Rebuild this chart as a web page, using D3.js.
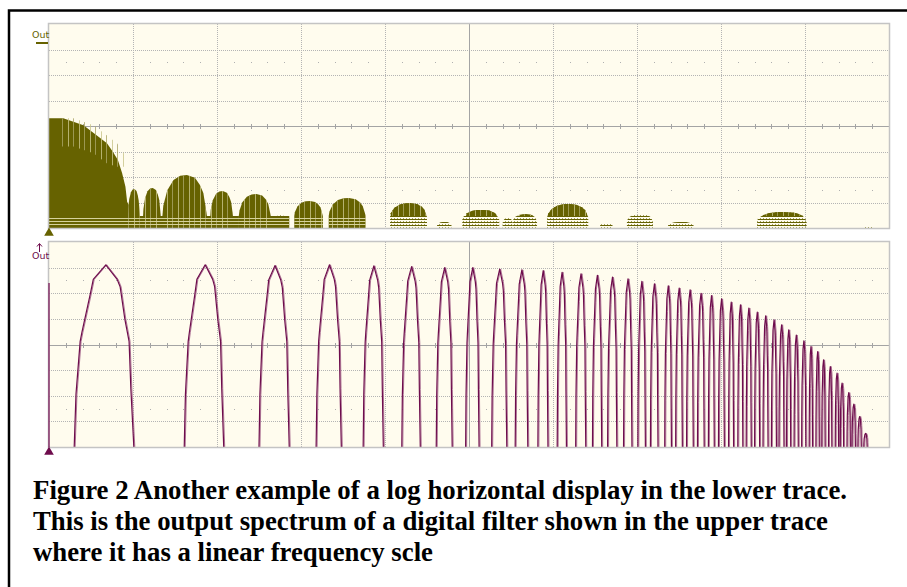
<!DOCTYPE html>
<html>
<head>
<meta charset="utf-8">
<script src="https://cdn.jsdelivr.net/npm/d3@7"></script>
<style>
  body { margin: 0; background: #fff; }
  svg { display: block; }
</style>
</head>
<body>
<div id="chart"></div>
<script>
// Screen divisions (10 across, 8 up) shared by both traces
const xDivisions = [0, 1, 2, 3, 4, 5, 6, 7, 8, 9, 10];
const yDivisions = [0, 1, 2, 3, 4, 5, 6, 7, 8];

// Upper trace (linear frequency): main lobe envelope [x div, height div]
const mainLobe = [
  [0, 4.30], [0.17, 4.30], [0.41, 4.03], [0.57, 3.63], [0.69, 3.32], [0.76, 2.99],
  [0.82, 2.67], [0.87, 2.16], [0.91, 1.62], [0.93, 1.03], [0.95, 0.90]
];
// Upper side lobes: [start, end, peak height, style] style 2 solid, 1 solid top / pale band, 0 pale
const upperLobes = [
  [0.94, 1.08, 1.53, 2], [1.12, 1.33, 1.57, 2], [1.35, 1.88, 2.08, 2], [1.92, 2.19, 1.45, 2],
  [2.26, 2.64, 1.33, 2], [2.68, 2.83, 0.51, 0], [2.92, 3.26, 1.06, 2], [3.33, 3.77, 1.18, 2],
  [4.06, 4.50, 0.98, 1], [4.62, 4.79, 0.24, 0], [4.92, 5.36, 0.71, 1], [5.40, 5.52, 0.40, 0],
  [5.52, 5.81, 0.55, 1], [5.93, 6.42, 0.94, 1], [6.56, 6.71, 0.20, 0], [6.88, 7.19, 0.55, 0],
  [7.37, 7.67, 0.24, 0], [8.43, 9.02, 0.63, 1], [9.71, 9.81, 0.08, 0]
];
const upperBand = 0.47;          // height of the striped floor under the lobes
const upperBandSpan = [0, 2.86]; // stretch where the floor is continuous
const upperStripes = [0.41, 0.27, 0.14];
const domeProfile = [
  [0, 0], [0.02, 0.25], [0.11, 0.63], [0.25, 0.88], [0.4, 0.98], [0.55, 1],
  [0.73, 0.93], [0.84, 0.76], [0.92, 0.56], [0.98, 0.15], [1, 0]
];

// Lower trace (log frequency): [start, end, peak height] in divisions
const lowerLobes = [
  [0.30, 1.01, 7.11], [1.61, 2.08, 7.11], [2.50, 2.86, 7.08], [3.18, 3.48, 7.11],
  [3.74, 3.98, 7.07], [4.20, 4.42, 7.04], [4.61, 4.80, 7.00], [4.96, 5.12, 7.00],
  [5.27, 5.45, 6.94], [5.55, 5.70, 6.91], [5.82, 5.94, 6.88], [6.05, 6.16, 6.82],
  [6.27, 6.39, 6.76], [6.47, 6.58, 6.70], [6.65, 6.76, 6.63], [6.84, 6.94, 6.56],
  [7.01, 7.10, 6.46], [7.16, 7.25, 6.37], [7.33, 7.41, 6.29], [7.46, 7.54, 6.20],
  [7.59, 7.67, 6.13], [7.72, 7.80, 6.00], [7.85, 7.92, 5.91], [7.97, 8.04, 5.78],
  [8.09, 8.15, 5.65], [8.20, 8.26, 5.55], [8.30, 8.36, 5.42], [8.40, 8.46, 5.26],
  [8.50, 8.56, 5.12], [8.60, 8.66, 4.96], [8.69, 8.75, 4.77], [8.78, 8.83, 4.57],
  [8.87, 8.92, 4.37], [8.96, 9.01, 4.14], [9.05, 9.09, 3.92], [9.13, 9.17, 3.72],
  [9.20, 9.24, 3.40], [9.28, 9.32, 3.14], [9.36, 9.40, 2.88], [9.42, 9.46, 2.49],
  [9.50, 9.54, 2.12], [9.56, 9.60, 1.67], [9.63, 9.67, 1.19], [9.70, 9.74, 0.53]
];
const lowerStart = 6.4; // value at the left edge before it drops to zero
// pointed lobe shape of the lower trace, read off the first lobe [t, fraction]
const lobeProfile = [
  [0, 0], [0.03, 0.29], [0.1, 0.58], [0.13, 0.63], [0.27, 0.84], [0.32, 0.92], [0.53, 1],
  [0.72, 0.92], [0.77, 0.88], [0.85, 0.70], [0.92, 0.58], [0.95, 0.32], [1, 0]
];

const caption = [
  "Figure 2 Another example of a log horizontal display in the lower trace.",
  "This is the output spectrum of a digital filter shown in the upper trace",
  "where it has a linear frequency scle"
];
const captionWidths = [814, 795, 400];

const width = 907;
const height = 587;
const olive = "#666200";
const purple = "#6e0c4c";
const screenBg = "#fffcee";

const svg = d3.select("#chart").append("svg")
  .attr("width", width)
  .attr("height", height)
  .attr("viewBox", [0, 0, width, height]);

svg.append("rect").attr("width", width).attr("height", height).attr("fill", "#fff");

// fill patterns: dotted hatch for faint parts, light streaks for the solid bars
const defs = svg.append("defs");
const hatch = defs.append("pattern").attr("id", "hatch")
  .attr("width", 3).attr("height", 3).attr("patternUnits", "userSpaceOnUse");
hatch.append("rect").attr("width", 3).attr("height", 1).attr("fill", olive);
hatch.append("rect").attr("x", 1).attr("y", 2).attr("width", 1).attr("height", 1).attr("fill", olive).attr("opacity", 0.6);
const streaks = defs.append("pattern").attr("id", "streaks")
  .attr("width", 11).attr("height", 4).attr("patternUnits", "userSpaceOnUse");
streaks.append("rect").attr("x", 2).attr("width", 1).attr("height", 4).attr("fill", "#c9c58a");
streaks.append("rect").attr("x", 7).attr("width", 1).attr("height", 4).attr("fill", "#aaa566");

// figure frame
svg.append("rect")
  .attr("x", 9).attr("y", 10.5).attr("width", 1000).attr("height", 1000)
  .attr("fill", "none").attr("stroke", "#000").attr("stroke-width", 2.5);

const x = d3.scaleLinear().domain([0, 10]).range([49, 889]);
const yUp = d3.scaleLinear().domain([0, 8]).range([228, 24]);
const yLo = d3.scaleLinear().domain([0, 8]).range([447, 242]);

function drawScreen(y, id) {
  const g = svg.append("g");
  g.append("rect")
    .attr("x", x(0)).attr("y", y(8))
    .attr("width", x(10) - x(0)).attr("height", y(0) - y(8))
    .attr("fill", screenBg);

  // dotted graticule
  g.selectAll(".vg").data(xDivisions.filter(d => d > 0 && d < 10 && d !== 5)).join("line")
    .attr("x1", d => x(d) + 0.5).attr("x2", d => x(d) + 0.5)
    .attr("y1", y(8)).attr("y2", y(0))
    .attr("stroke", "#b4b4b4").attr("stroke-dasharray", "1,1");
  g.selectAll(".hg").data(yDivisions.filter(d => d > 0 && d < 8 && d !== 4)).join("line")
    .attr("x1", x(0)).attr("x2", x(10))
    .attr("y1", d => Math.round(y(d)) + 0.5).attr("y2", d => Math.round(y(d)) + 0.5)
    .attr("stroke", "#b4b4b4").attr("stroke-dasharray", "1,1");

  // solid centre lines
  g.append("line")
    .attr("x1", x(5) + 0.5).attr("x2", x(5) + 0.5).attr("y1", y(8)).attr("y2", y(0))
    .attr("stroke", "#a4a4a4");
  g.append("line")
    .attr("x1", x(0)).attr("x2", x(10))
    .attr("y1", Math.round(y(4)) + 0.5).attr("y2", Math.round(y(4)) + 0.5)
    .attr("stroke", "#a4a4a4");

  // minor ticks on the centre line and dot rows
  const minor = d3.range(0, 50).map(i => i / 5).filter(d => d % 1 !== 0);
  g.selectAll(".mt").data(minor).join("line")
    .attr("x1", d => Math.round(x(d)) + 0.5).attr("x2", d => Math.round(x(d)) + 0.5)
    .attr("y1", Math.round(y(4)) - 2).attr("y2", Math.round(y(4)) + 3)
    .attr("stroke", "#a4a4a4");
  [6.5, 1.5].forEach(row => {
    g.selectAll(null).data(minor).join("rect")
      .attr("x", d => Math.round(x(d))).attr("y", Math.round(y(row)))
      .attr("width", 1).attr("height", 1).attr("fill", "#b0b0b0");
  });

  svg.append("clipPath").attr("id", id)
    .append("rect")
    .attr("x", x(0)).attr("y", y(8))
    .attr("width", x(10) - x(0)).attr("height", y(0) - y(8));
  return g;
}

drawScreen(yUp, "clipUp");
drawScreen(yLo, "clipLo");

// ---- upper trace ----
const up = svg.append("g").attr("clip-path", "url(#clipUp)");
const area = d3.area().x(d => x(d[0])).y0(d => yUp(d[2] ?? 0)).y1(d => yUp(d[1]));

function domePoints(l, base) {
  const [s, e, h] = l;
  const b = Math.min(base, h * 0.45);
  return domeProfile.map(([t, f]) => [s + t * (e - s), b + (h - b) * f]);
}

const solidShapes = [];
solidShapes.push(area([[upperBandSpan[0], upperBand], [upperBandSpan[1], upperBand]]));
solidShapes.push(area(mainLobe.concat([[0.95, upperBand]])));

const paleShapes = [];
const streakShapes = [];
upperLobes.forEach(l => {
  const pts = domePoints(l, upperBand);
  const full = area([[l[0], 0]].concat(pts).concat([[l[1], 0]]));
  if (l[3] === 2) { solidShapes.push(full); streakShapes.push(full); }
  else {
    paleShapes.push(full);
    if (l[3] === 1) {
      const top = area(pts.filter(p => p[1] > upperBand).map(p => [p[0], p[1], upperBand]));
      solidShapes.push(top);
      streakShapes.push(top);
    }
  }
});
// streaks in the top of the main lobe
streakShapes.push(area(mainLobe.filter(p => p[1] > 2.5).map(p => [p[0] + 0.12, p[1], Math.max(p[1] - 1.1, 2.4)])));

up.selectAll(".pale").data(paleShapes).join("path")
  .attr("d", d => d).attr("fill", "url(#hatch)");
up.selectAll(".solid").data(solidShapes).join("path")
  .attr("d", d => d).attr("fill", olive);
up.selectAll(".streak").data(streakShapes).join("path")
  .attr("d", d => d).attr("fill", "url(#streaks)").attr("opacity", 0.8);

// light stripes through the floor of the solid trace
const stripeClip = svg.append("clipPath").attr("id", "stripeClip");
stripeClip.selectAll("path").data(solidShapes).join("path").attr("d", d => d);
up.append("g").attr("clip-path", "url(#stripeClip)")
  .selectAll("line").data(upperStripes).join("line")
  .attr("x1", x(0)).attr("x2", x(10))
  .attr("y1", d => Math.round(yUp(d)) + 0.5).attr("y2", d => Math.round(yUp(d)) + 0.5)
  .attr("stroke", "#d6d29c").attr("stroke-width", 1);

// ---- lower trace ----
const lo = svg.append("g").attr("clip-path", "url(#clipLo)");
const line = d3.line().x(d => x(d[0])).y(d => yLo(d[1]));
lo.selectAll(".lobeGlow").data(lowerLobes).join("path")
  .attr("d", ([s, e, h]) => line(lobeProfile.map(([t, f]) => [s + t * (e - s), h * f])))
  .attr("fill", "none").attr("stroke", "#b07898").attr("stroke-width", 1)
  .attr("transform", "translate(1,0)");
lo.selectAll(".lobe").data(lowerLobes).join("path")
  .attr("d", ([s, e, h]) => line(lobeProfile.map(([t, f]) => [s + t * (e - s), h * f])))
  .attr("fill", "none").attr("stroke", purple).attr("stroke-width", 1.2)
  .attr("stroke-linejoin", "round");

// screen borders drawn last
[yUp, yLo].forEach(y => {
  svg.append("rect")
    .attr("x", x(0) - 0.5).attr("y", y(8) - 0.5)
    .attr("width", x(10) - x(0) + 1).attr("height", y(0) - y(8) + 1)
    .attr("fill", "none").attr("stroke", "#c4c4c4").attr("stroke-width", 1.5);
});
// the lower trace's first value sits on the left border
svg.append("path")
  .attr("d", line([[0, lowerStart], [0, 0]]))
  .attr("stroke", "#8a3a70").attr("stroke-width", 1.6);

// channel labels
svg.append("text").attr("x", 32).attr("y", 38)
  .attr("font-family", "Verdana, DejaVu Sans, sans-serif").attr("font-size", 9.5)
  .attr("fill", olive).text("Out");
svg.append("rect").attr("x", 36).attr("y", 42).attr("width", 12).attr("height", 2).attr("fill", olive);

svg.append("text").attr("x", 32).attr("y", 259)
  .attr("font-family", "Verdana, DejaVu Sans, sans-serif").attr("font-size", 9.5)
  .attr("fill", purple).text("Out");
svg.append("path").attr("d", "M39.5,252V244M37,246.5L39.5,243.5L42,246.5")
  .attr("fill", "none").attr("stroke", purple).attr("stroke-width", 1);

// ground markers
const tri = d3.symbol().type(d3.symbolTriangle).size(40);
svg.append("path").attr("transform", `translate(${x(0)},233)`).attr("d", tri).attr("fill", olive);
svg.append("path").attr("transform", `translate(${x(0)},452)`).attr("d", tri).attr("fill", purple);

// caption
svg.append("g").selectAll("text").data(caption).join("text")
  .attr("x", 33)
  .attr("y", (d, i) => 499 + i * 31)
  .attr("font-family", "'Liberation Serif', 'Times New Roman', serif")
  .attr("font-weight", "bold")
  .attr("font-size", 27)
  .attr("textLength", (d, i) => captionWidths[i])
  .attr("lengthAdjust", "spacingAndGlyphs")
  .attr("fill", "#000")
  .text(d => d);
</script>
</body>
</html>
